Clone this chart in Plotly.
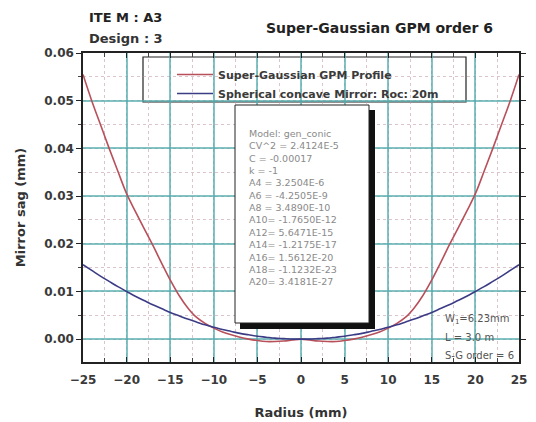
import plotly.graph_objects as go

# ---------------- data ----------------
radius = [-25, -24, -23, -22, -21, -20, -19, -18, -17, -16, -15, -14, -13, -12, -11, -10,
          -9, -8, -7, -6, -5, -4, -3, -2, -1, 0,
          1, 2, 3, 4, 5, 6, 7, 8, 9, 10, 11, 12, 13, 14, 15, 16, 17, 18, 19, 20,
          21, 22, 23, 24, 25]

sag_super_gaussian = [0.0555, 0.0500, 0.0450, 0.0400, 0.0352, 0.0305, 0.0268, 0.0232, 0.0197,
                      0.0160, 0.0124, 0.0092, 0.0066, 0.0046, 0.0033, 0.0023,
                      0.0015, 0.0009, 0.0004, 0.0000, -0.0003, -0.0005, -0.0005, -0.0004,
                      -0.0002, 0.0000,
                      -0.0002, -0.0004, -0.0005, -0.0005, -0.0003, 0.0000, 0.0004, 0.0009,
                      0.0015, 0.0023, 0.0033, 0.0046, 0.0066, 0.0092, 0.0124, 0.0160,
                      0.0197, 0.0232, 0.0268, 0.0305, 0.0352, 0.0400, 0.0450, 0.0500, 0.0555]

sag_sphere = [0.0156, 0.0144, 0.0132, 0.0121, 0.0110, 0.0100, 0.0090, 0.0081, 0.0072,
              0.0064, 0.0056, 0.0049, 0.0042, 0.0036, 0.0030, 0.0025,
              0.0020, 0.0016, 0.0012, 0.0009, 0.0006, 0.0004, 0.0002, 0.0001,
              0.0000, 0.0000,
              0.0000, 0.0001, 0.0002, 0.0004, 0.0006, 0.0009, 0.0012, 0.0016,
              0.0020, 0.0025, 0.0030, 0.0036, 0.0042, 0.0049, 0.0056, 0.0064,
              0.0072, 0.0081, 0.0090, 0.0100, 0.0110, 0.0121, 0.0132, 0.0144, 0.0156]

series_names = ["Super-Gaussian GPM Profile", "Spherical concave Mirror: Roc: 20m"]
x_ticks = [-25, -20, -15, -10, -5, 0, 5, 10, 15, 20, 25]
y_ticks = [0.00, 0.01, 0.02, 0.03, 0.04, 0.05, 0.06]

fit_lines = ["Model: gen_conic", "CV^2 = 2.4124E-5", "C = -0.00017", "k = -1",
             "A4 = 3.2504E-6", "A6 = -4.2505E-9", "A8 = 3.4890E-10",
             "A10= -1.7650E-12", "A12= 5.6471E-15", "A14= -1.2175E-17",
             "A16= 1.5612E-20", "A18= -1.1232E-23", "A20= 3.4181E-27"]
param_lines = ["W<sub>1</sub>=6.23mm", "L = 3.0 m", "S-G order = 6"]

# ---------------- geometry (page pixels; the page body has an 8px margin) ----------------
OFF = 8
PAGE_W, PAGE_H = 536, 422
W, H = PAGE_W - OFF, PAGE_H - OFF
PL, PR, PT, PB = 83, 519, 53, 362          # plot area in page pixels
L, R, T, B = PL - OFF, W - (PR - OFF), PT - OFF, H - (PB - OFF)
pw, ph = PR - PL, PB - PT


def px(x):
    return (x - PL) / pw


def py(y):
    return (PB - y) / ph


FONT = "DejaVu Sans, Verdana, sans-serif"
TXT = "#3a3a3a"

fig = go.Figure()
fig.add_trace(go.Scatter(x=radius, y=sag_super_gaussian, mode="lines", name=series_names[0],
                         line=dict(color="#b8505c", width=1.6, shape="spline")))
fig.add_trace(go.Scatter(x=radius, y=sag_sphere, mode="lines", name=series_names[1],
                         line=dict(color="#3c3c86", width=1.6, shape="spline")))

grid_major = "rgba(80,170,170,0.7)"
grid_minor = "rgba(190,150,160,0.55)"
bold12 = dict(size=12, color=TXT, family=FONT, weight="bold")

fig.update_layout(
    width=W, height=H,
    margin=dict(l=L, r=R, t=T, b=B, autoexpand=False),
    paper_bgcolor="white", plot_bgcolor="white",
    font=dict(family=FONT, color=TXT),
    showlegend=True,
    legend=dict(x=px(172), y=py(60), xanchor="left", yanchor="top",
                bgcolor="rgba(0,0,0,0)", borderwidth=0, itemwidth=36,
                font=dict(size=11, color=TXT, family=FONT, weight="bold"),
                tracegroupgap=0),
    xaxis=dict(range=[-25, 25], tickvals=x_ticks, ticks="inside", ticklen=5,
               tickcolor="#222", showline=True, linecolor="#222", linewidth=1.5,
               mirror="allticks", showgrid=True, gridcolor=grid_major, gridwidth=2.2,
               zeroline=False, tickfont=bold12, ticklabelstandoff=6, automargin=False,
               title=dict(text="Radius (mm)",
                          font=dict(size=13, color="#333", family=FONT, weight="bold"),
                          standoff=22),
               minor=dict(dtick=2.5, ticks="inside", ticklen=4, tickcolor="#444",
                          showgrid=True, gridcolor=grid_minor, griddash="dot", gridwidth=1)),
    yaxis=dict(range=[-0.0048, 0.06], tickvals=y_ticks, tickformat=".2f",
               ticks="outside", ticklen=5, tickcolor="#222", showline=True,
               linecolor="#222", linewidth=1.5, mirror="allticks", showgrid=True,
               gridcolor=grid_major, gridwidth=2.2, zeroline=False, automargin=False,
               tickfont=bold12,
               title=dict(text="Mirror sag (mm)",
                          font=dict(size=13, color="#333", family=FONT, weight="bold"),
                          standoff=16),
               minor=dict(dtick=0.005, ticks="outside", ticklen=3, tickcolor="#444",
                          showgrid=True, gridcolor=grid_minor, griddash="dot", gridwidth=1)),
)

shapes = []
# legend frame
shapes.append(dict(type="rect", xref="paper", yref="paper", x0=px(143), x1=px(466),
                   y0=py(102), y1=py(57), fillcolor="white",
                   line=dict(color="#222", width=1.2), layer="between"))
# fit-result box with shadow
shapes.append(dict(type="rect", xref="paper", yref="paper", x0=px(240), x1=px(375),
                   y0=py(329), y1=py(110), fillcolor="#111", line=dict(width=0),
                   layer="above"))
shapes.append(dict(type="rect", xref="paper", yref="paper", x0=px(235), x1=px(369),
                   y0=py(323), y1=py(105), fillcolor="white",
                   line=dict(color="#222", width=1), layer="above"))
fig.update_layout(shapes=shapes)

annotations = [
    dict(text="ITE M : A3", x=px(87), y=py(17), xref="paper", yref="paper",
         xanchor="left", yanchor="middle", showarrow=False,
         font=dict(size=13, color="#222", family=FONT, weight="bold")),
    dict(text="Design : 3", x=px(87), y=py(38), xref="paper", yref="paper",
         xanchor="left", yanchor="middle", showarrow=False,
         font=dict(size=13, color="#333", family=FONT, weight="bold")),
    dict(text="Super-Gaussian GPM order 6", x=px(264), y=py(28), xref="paper",
         yref="paper", xanchor="left", yanchor="middle", showarrow=False,
         font=dict(size=14, color="#222", family=FONT, weight="bold")),
]
# fit-result text
annotations.append(dict(text="<br>".join(fit_lines), x=px(247), y=py(126), xref="paper",
                        yref="paper", xanchor="left", yanchor="top", align="left",
                        showarrow=False, font=dict(size=9.5, color="#8a8a8a", family=FONT)))
# bottom-right parameters
for txt, yy in zip(param_lines, [319, 337, 355]):
    annotations.append(dict(text=txt, x=px(443), y=py(yy), xref="paper", yref="paper",
                            xanchor="left", yanchor="middle", showarrow=False,
                            font=dict(size=10, color="#555", family=FONT)))
fig.update_layout(annotations=annotations)

fig.write_html("out.html")
